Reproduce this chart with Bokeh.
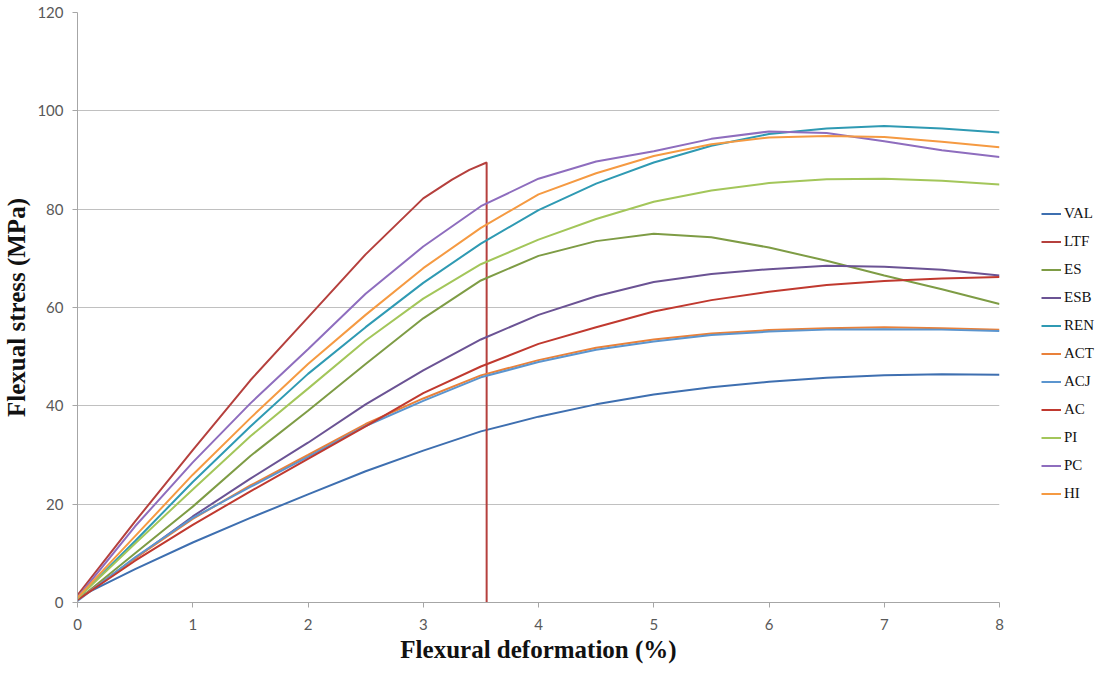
from bokeh.plotting import figure
from bokeh.models import Legend, LegendItem, FixedTicker
from bokeh.embed import file_html
from bokeh.resources import INLINE

# deformation (%) shared grid
x_pts = [0, 0.5, 1, 1.5, 2, 2.5, 3, 3.5, 4, 4.5, 5, 5.5, 6, 6.5, 7, 7.5, 8]

VAL = [1, 6.8, 12.2, 17.2, 22, 26.7, 30.9, 34.8, 37.8, 40.3, 42.3, 43.8, 44.9, 45.7, 46.2, 46.4, 46.3]
LTF_x = [0, 0.5, 1, 1.5, 2, 2.5, 3, 3.25, 3.4, 3.55, 3.55]
LTF = [1.5, 16.5, 31, 45.2, 58, 70.8, 82.2, 86, 88, 89.5, 0]
ES = [0.5, 10, 19.5, 29.8, 39, 48.5, 57.8, 65.5, 70.5, 73.5, 75, 74.3, 72.2, 69.5, 66.5, 63.7, 60.7]
ESB = [0.5, 9, 17.5, 25.2, 32.5, 40.3, 47.2, 53.5, 58.5, 62.3, 65.2, 66.8, 67.8, 68.5, 68.3, 67.7, 66.5]
REN = [0.8, 12.5, 24.5, 35.8, 46.5, 56, 65, 73, 79.8, 85.2, 89.5, 92.9, 95.3, 96.4, 96.9, 96.4, 95.6]
ACT = [0.5, 9, 17, 23.8, 30, 36.3, 41.5, 46.2, 49.3, 51.8, 53.5, 54.7, 55.4, 55.8, 56, 55.8, 55.5]
ACJ = [0.3, 9.2, 17.2, 23.5, 29.6, 35.9, 41, 45.8, 48.9, 51.4, 53.1, 54.4, 55.1, 55.5, 55.6, 55.5, 55.2]
AC = [0.5, 8.5, 15.8, 22.6, 29.2, 35.8, 42.6, 48, 52.6, 56, 59.2, 61.5, 63.2, 64.6, 65.4, 65.9, 66.2]
PI = [0.8, 12, 23, 33.8, 43.5, 53.3, 61.8, 68.8, 73.8, 78, 81.5, 83.8, 85.3, 86.1, 86.2, 85.8, 85]
PC = [1, 15.5, 28.5, 40.5, 51.5, 62.8, 72.4, 80.6, 86.2, 89.7, 91.8, 94.3, 95.8, 95.5, 93.8, 92, 90.6]
HI = [1, 13.5, 26, 37.5, 48.5, 58.5, 68, 76.2, 83, 87.3, 90.8, 93.2, 94.6, 94.9, 94.7, 93.7, 92.6]

names = ["VAL", "LTF", "ES", "ESB", "REN", "ACT", "ACJ", "AC", "PI", "PC", "HI"]
series = [(x_pts, VAL), (LTF_x, LTF), (x_pts, ES), (x_pts, ESB), (x_pts, REN), (x_pts, ACT),
          (x_pts, ACJ), (x_pts, AC), (x_pts, PI), (x_pts, PC), (x_pts, HI)]
colors = ["#3E6FB0", "#B5403D", "#7E9C45", "#6B5394", "#2F9AB3", "#E9813A",
          "#5B95CF", "#C0392F", "#A3C65A", "#8E6DBE", "#F59A42"]

x_ticks = [0, 1, 2, 3, 4, 5, 6, 7, 8]
y_ticks = [0, 20, 40, 60, 80, 100, 120]

p = figure(frame_width=922, frame_height=590, x_range=(0, 8), y_range=(0, 120),
           output_backend="svg", toolbar_location=None,
           min_border_left=75, min_border_top=12, min_border_bottom=30, min_border_right=97)
p.outline_line_color = None
p.background_fill_color = "white"
p.border_fill_color = "white"

p.xgrid.grid_line_color = None
p.ygrid.grid_line_color = "#C0C0C0"
p.ygrid.grid_line_width = 1

for ax in (p.xaxis[0], p.yaxis[0]):
    ax.axis_line_color = "#A6A6A6"
    ax.major_tick_line_color = "#A6A6A6"
    ax.minor_tick_line_color = None
    ax.major_tick_out = 5
    ax.major_tick_in = 0
    ax.major_label_text_font = "Lato"
    ax.major_label_text_font_size = "15px"
    ax.major_label_text_color = "#595959"
    ax.axis_label_text_font = "Liberation Serif"
    ax.axis_label_text_font_style = "bold"
    ax.axis_label_text_font_size = "25px"
    ax.axis_label_text_color = "#111111"

p.xaxis.ticker = FixedTicker(ticks=x_ticks)
p.yaxis.ticker = FixedTicker(ticks=y_ticks)
p.xaxis.major_label_standoff = 11
p.yaxis.major_label_standoff = 9
p.xaxis.axis_label = "Flexural deformation (%)"
p.yaxis.axis_label = "Flexual stress (MPa)"
p.xaxis.axis_label_standoff = 3
p.yaxis.axis_label_standoff = 4

items = []
for name, (xs, ys), c in zip(names, series, colors):
    r = p.line(xs, ys, line_color=c, line_width=2)
    items.append(LegendItem(label=name, renderers=[r]))

legend = Legend(items=items, location=(42, 98), margin=0, padding=0,
                spacing=7, glyph_width=20, glyph_height=21, label_height=21,
                label_standoff=3, border_line_color=None, background_fill_alpha=0,
                label_text_font="Liberation Serif", label_text_font_size="15px",
                label_text_color="#111111")
p.add_layout(legend, "right")

open("out.html", "w").write(file_html(p, INLINE))
